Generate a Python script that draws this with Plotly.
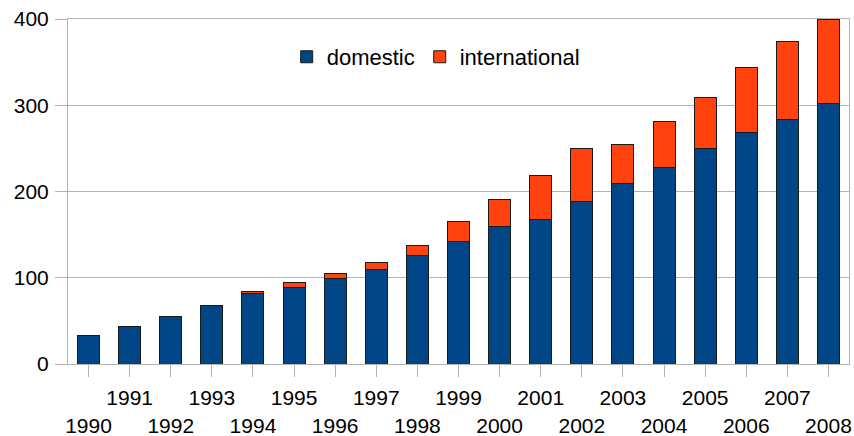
import plotly.graph_objects as go

years = [str(y) for y in range(1990, 2009)]
domestic = [33, 44, 55, 68, 82, 89, 99, 110, 126, 142, 159, 168, 188, 209, 228, 250, 268, 284, 302]
international = [0, 0, 0, 0, 1.5, 5, 6, 7.5, 11, 23, 32, 50, 62, 46, 53, 59, 76, 90, 98]
tick_labels = [y if int(y) % 2 == 1 else "<br>" + y for y in years]

FONT = "Liberation Sans, Arial, sans-serif"
GRID = "#b3b3b3"

fig = go.Figure()
fig.add_trace(go.Bar(x=years, y=domestic, name="domestic",
                     marker=dict(color="#004586", line=dict(color="#1a1a1a", width=1))))
fig.add_trace(go.Bar(x=years, y=international, name="international",
                     marker=dict(color="#ff420e", line=dict(color="#1a1a1a", width=1))))

fig.update_layout(
    width=854, height=436,
    barmode="stack", bargap=0.465,
    margin=dict(l=68, r=5, t=19, b=72, autoexpand=False),
    paper_bgcolor="white", plot_bgcolor="white",
    font=dict(family=FONT, size=21, color="#000000"),
    showlegend=True,
    legend=dict(orientation="h", traceorder="normal", x=0.28, y=0.89,
                xanchor="left", yanchor="middle",
                bgcolor="rgba(0,0,0,0)", font=dict(size=22), itemclick=False),
)
fig.update_xaxes(
    type="category", tickmode="array", tickvals=years, ticktext=tick_labels,
    showline=True, linecolor=GRID, linewidth=1, mirror=True,
    ticks="outside", ticklen=12, tickcolor=GRID, tickwidth=1,
    showgrid=False, tickangle=0, automargin=False, ticklabelstandoff=3,
)
fig.update_yaxes(
    range=[0, 400], tickvals=[0, 100, 200, 300, 400],
    showline=True, linecolor=GRID, linewidth=1, mirror=True,
    ticks="outside", ticklen=12, tickcolor=GRID, tickwidth=1,
    showgrid=True, gridcolor=GRID, gridwidth=1, zeroline=False,
    automargin=False, ticklabelstandoff=2,
)

fig.write_html("out.html", config={"displayModeBar": False},
               post_script="document.body.style.margin='0';document.body.style.overflow='hidden';")
